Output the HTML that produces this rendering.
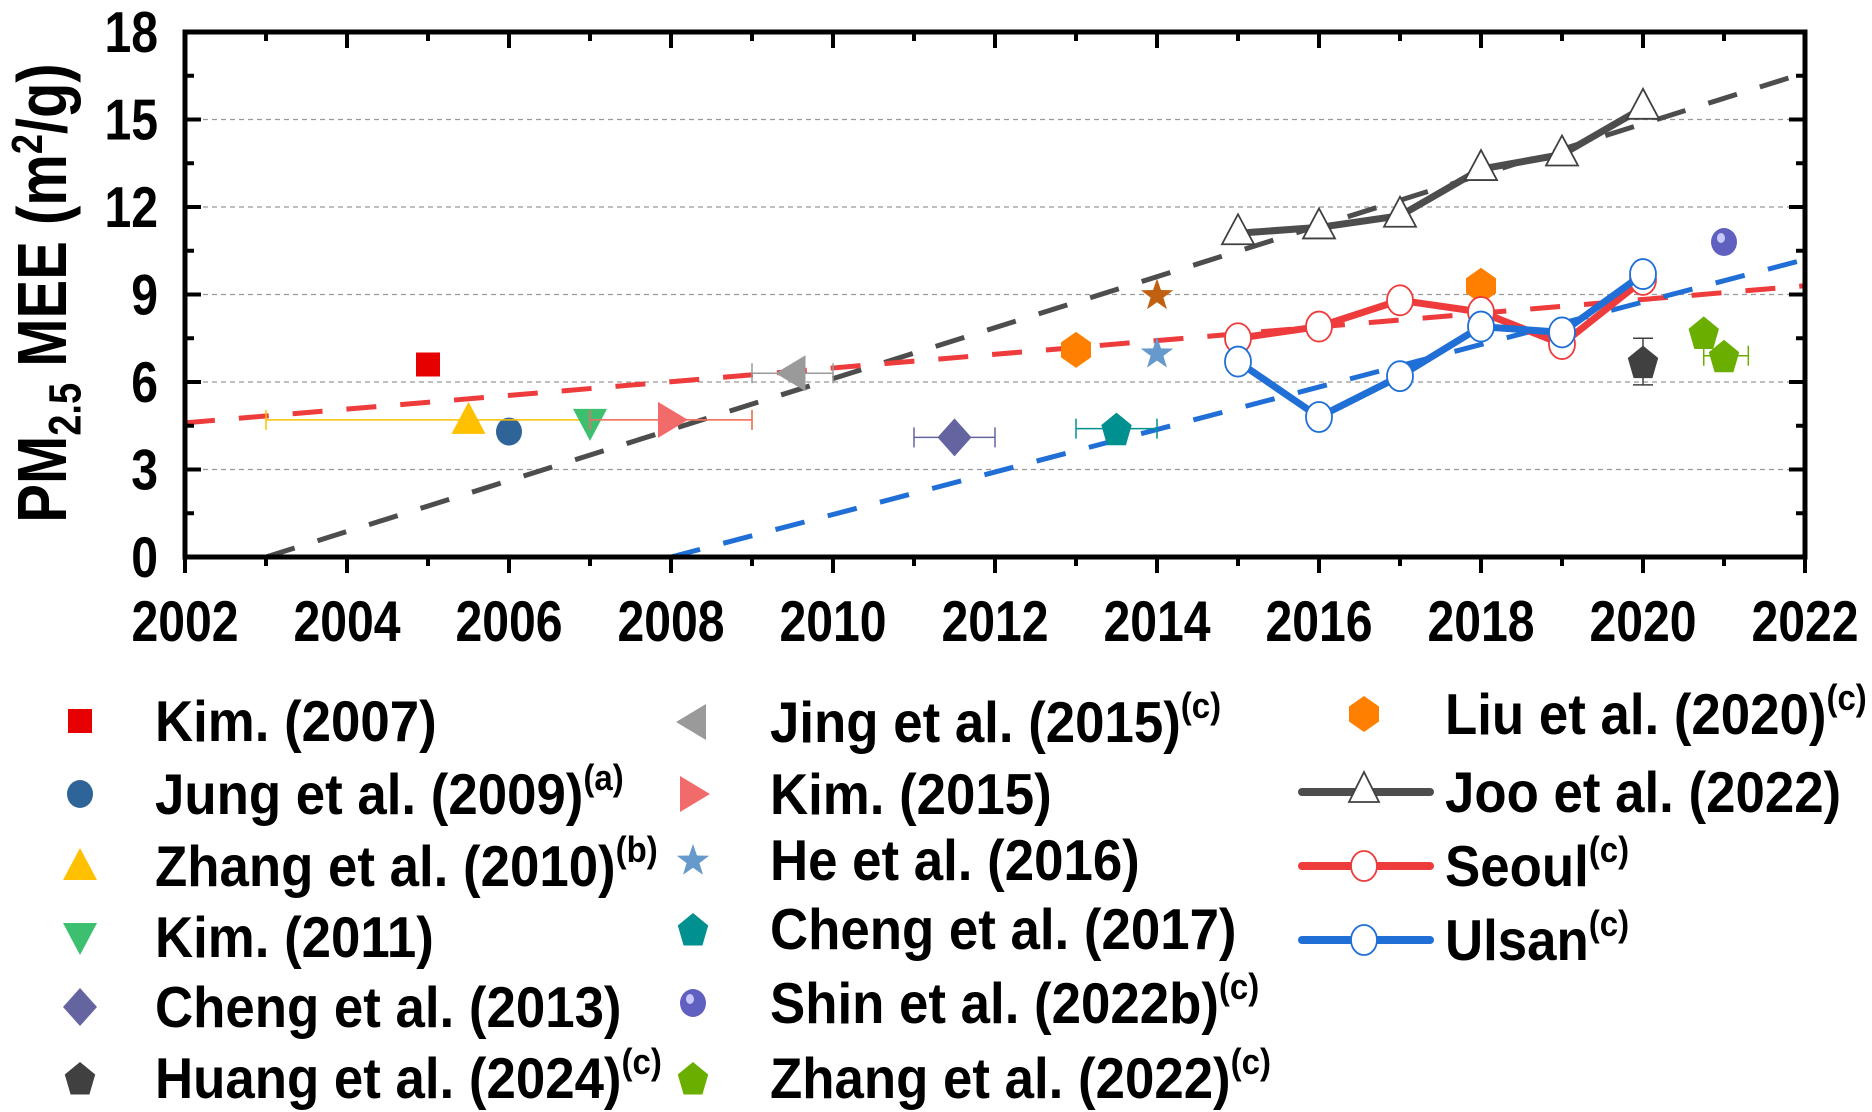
<!DOCTYPE html>
<html><head><meta charset="utf-8"><style>
body{margin:0;background:#fff}
svg{display:block;font-family:"Liberation Sans",Arial,sans-serif;font-weight:bold}
</style></head><body>
<svg id="c" width="1872" height="1112" viewBox="0 0 1872 1112">
<g id="grid"></g>
<g id="trends"></g>
<g id="series"></g>
<g id="axes"></g>
<g transform="translate(66,293) rotate(-90) scale(1,1.2)">
<text x="0" y="0" text-anchor="middle" font-size="58">PM<tspan font-size="38" dy="12">2.5</tspan><tspan dy="-12"> MEE (m</tspan><tspan font-size="36" dy="-20">2</tspan><tspan dy="20">/g)</tspan></text>
</g>
<g id="legend"></g>
</svg>
<script>
const xTicks=[2002,2004,2006,2008,2010,2012,2014,2016,2018,2020,2022];
const yTicks=[0,3,6,9,12,15,18];
const years=[2015,2016,2017,2018,2019,2020];
const jooVals=[11.1,11.3,11.7,13.3,13.8,15.4];
const seoulVals=[7.5,7.9,8.8,8.4,7.3,9.5];
const ulsanVals=[6.7,4.8,6.2,7.9,7.7,9.7];
const pointX=[2005,2006,2005.5,2007,2008,2009.5,2011.5,2013,2018,2014,2014,2013.5,2021,2020.75,2021,2020];
const pointY=[6.6,4.3,4.7,4.6,4.7,6.3,4.1,7.1,9.3,7.0,9.0,4.4,10.8,7.7,6.9,6.7];
const pointShape=['square','circle','tri-up','tri-down','tri-right','tri-left','diamond','hex','hex','star','star','pent','sphere','pent','pent','pent'];
const pointColor=['#e60000','#2f6499','#ffc000','#3cbf6e','#f26b6b','#9a9a9a','#6464a0','#ff8000','#ff8000','#6699cc','#c06010','#009090','#6060c0','#6aaf00','#6aaf00','#404040'];
const errXlo=[null,null,2003,null,2007,2009,2011,null,null,null,null,2013,null,null,2020.75,null];
const errXhi=[null,null,2009,null,2009,2010,2012,null,null,null,null,2014,null,null,2021.3,null];
const errYlo=[null,null,null,null,null,null,null,null,null,null,null,null,null,null,null,5.9];
const errYhi=[null,null,null,null,null,null,null,null,null,null,null,null,null,null,null,7.5];
const trendX0=[2003,2002,2008];const trendY0=[0,4.6,0];
const trendX1=[2022,2022,2022];const trendY1=[16.6,9.3,10.2];
const trendColor=['#4d4d4d','#ee3b3b','#1f6fd6'];

const L=185,R=1805,T=32,B=557;
const X=v=>L+(v-2002)/20*(R-L);
const Y=v=>B-v/18*(B-T);
const NS='http://www.w3.org/2000/svg';
function mk(parent,tag,attrs){const e=document.createElementNS(NS,tag);for(const k in attrs)e.setAttribute(k,attrs[k]);parent.appendChild(e);return e;}
const grid=document.getElementById('grid'),axes=document.getElementById('axes'),trends=document.getElementById('trends'),series=document.getElementById('series'),legend=document.getElementById('legend');

yTicks.forEach(v=>{if(v>0&&v<18){const l=mk(grid,'line',{x1:L,x2:R,y1:Y(v),y2:Y(v),stroke:'#999','stroke-width':1.2,'stroke-dasharray':'5 4'});

}});

trendX0.forEach((x0,i)=>{const l=mk(trends,'line',{x1:X(x0),y1:Y(trendY0[i]),x2:X(trendX1[i]),y2:Y(trendY1[i]),stroke:trendColor[i],'stroke-width':5,'stroke-dasharray':'30 24'});

});

function shape(g,type,cx,cy,col,r){
  r=r||15;let p;
  const poly=pts=>mk(g,'polygon',{points:pts.map(a=>a.join(',')).join(' '),fill:col});
  if(type==='square')p=mk(g,'rect',{x:cx-12,y:cy-12,width:24,height:24,fill:col});
  else if(type==='circle')p=mk(g,'ellipse',{cx:cx,cy:cy,rx:13,ry:14,fill:col});
  else if(type==='sphere'){mk(g,'ellipse',{cx:cx,cy:cy,rx:13,ry:14,fill:col});p=mk(g,'ellipse',{cx:cx-3,cy:cy-4,rx:4,ry:5,fill:'#c8c8ff'});}
  else if(type==='tri-up')p=poly([[cx,cy-r-3],[cx+r+2,cy+r-1],[cx-r-2,cy+r-1]]);
  else if(type==='tri-down')p=poly([[cx,cy+r+3],[cx+r+2,cy-r+1],[cx-r-2,cy-r+1]]);
  else if(type==='tri-right')p=poly([[cx+r+2,cy],[cx-r+2,cy-r-3],[cx-r+2,cy+r+3]]);
  else if(type==='tri-left')p=poly([[cx-r-2,cy],[cx+r-2,cy-r-3],[cx+r-2,cy+r+3]]);
  else if(type==='diamond')p=poly([[cx,cy-r-4],[cx+r+2,cy],[cx,cy+r+4],[cx-r-2,cy]]);
  else if(type==='hex')p=poly([[cx,cy-r-3],[cx+r,cy-r/2],[cx+r,cy+r/2],[cx,cy+r+3],[cx-r,cy+r/2],[cx-r,cy-r/2]]);
  else if(type==='pent'){const a=[];for(let k=0;k<5;k++){const t=-Math.PI/2+k*2*Math.PI/5;a.push([cx+(r+1)*Math.cos(t),(cy+(r+3)*Math.sin(t)+2)]);}p=poly(a);}
  else if(type==='star'){const a=[];for(let k=0;k<10;k++){const t=-Math.PI/2+k*Math.PI/5,rr=k%2?r*0.45:r+2;a.push([cx+rr*Math.cos(t),cy+rr*Math.sin(t)+1]);}p=poly(a);}
  return p;
}

pointX.forEach((x,i)=>{
  const g=mk(series,'g',{});
  
  
  const cx=X(x),cy=Y(pointY[i]);
  if(errXlo[i]!=null){const a=X(errXlo[i]),b=X(errXhi[i]);
    mk(g,'line',{x1:a,x2:b,y1:cy,y2:cy,stroke:pointColor[i],'stroke-width':1.5});
    mk(g,'line',{x1:a,x2:a,y1:cy-10,y2:cy+10,stroke:pointColor[i],'stroke-width':1.5});
    mk(g,'line',{x1:b,x2:b,y1:cy-10,y2:cy+10,stroke:pointColor[i],'stroke-width':1.5});}
  if(errYlo[i]!=null){const a=Y(errYlo[i]),b=Y(errYhi[i]);
    mk(g,'line',{x1:cx,x2:cx,y1:a,y2:b,stroke:pointColor[i],'stroke-width':1.5});
    mk(g,'line',{x1:cx-10,x2:cx+10,y1:a,y2:a,stroke:pointColor[i],'stroke-width':1.5});
    mk(g,'line',{x1:cx-10,x2:cx+10,y1:b,y2:b,stroke:pointColor[i],'stroke-width':1.5});}
  shape(g,pointShape[i],cx,cy,pointColor[i]);
});

function lineSeries(vals,col,mark,name){
  const g=mk(series,'g',{});
  
  
  mk(g,'polyline',{points:years.map((y,i)=>X(y)+','+Y(vals[i])).join(' '),fill:'none',stroke:col,'stroke-width':7,'stroke-linejoin':'round'});
  years.forEach((y,i)=>{const cx=X(y),cy=Y(vals[i]);
    if(mark==='tri')mk(g,'polygon',{points:`${cx},${cy-19} ${cx+16},${cy+11} ${cx-16},${cy+11}`,fill:'#fff',stroke:'#404040','stroke-width':1.8});
    else mk(g,'ellipse',{cx:cx,cy:cy,rx:13,ry:15,fill:'#fff',stroke:col,'stroke-width':1.8});});
}
lineSeries(jooVals,'#4d4d4d','tri','joo-series');
lineSeries(seoulVals,'#ee3b3b','circ','seoul-series');
lineSeries(ulsanVals,'#1f6fd6','circ','ulsan-series');

const frame=mk(axes,'rect',{x:L,y:T,width:R-L,height:B-T,fill:'none',stroke:'#000','stroke-width':5});


for(let yr=2002;yr<=2022;yr++){const maj=yr%2===0,x=X(yr);
  mk(axes,'line',{x1:x,x2:x,y1:B,y2:B+(maj?16:9),stroke:'#000','stroke-width':4});
  mk(axes,'line',{x1:x,x2:x,y1:T,y2:T+(maj?16:9),stroke:'#000','stroke-width':4});}
for(let v=0;v<=18;v+=1.5){const maj=v%3===0,y=Y(v);
  mk(axes,'line',{x1:L,x2:L+(maj?16:9),y1:y,y2:y,stroke:'#000','stroke-width':4});
  mk(axes,'line',{x1:R,x2:R-(maj?16:9),y1:y,y2:y,stroke:'#000','stroke-width':4});}
xTicks.forEach(v=>{const g=mk(axes,'g',{transform:`translate(${X(v)},641) scale(1.07,1.28)`});
const t=mk(g,'text',{x:0,y:0,'text-anchor':'middle','font-size':45});t.textContent=v;

});
yTicks.forEach(v=>{const g=mk(axes,'g',{transform:`translate(158,${Y(v)+20}) scale(1.07,1.28)`});
const t=mk(g,'text',{x:0,y:0,'text-anchor':'end','font-size':45});t.textContent=v;

});

const legLabels=[['Kim. (2007)',''],['Jung et al. (2009)','(a)'],['Zhang et al. (2010)','(b)'],['Kim. (2011)',''],['Cheng et al. (2013)',''],['Huang et al. (2024)','(c)'],
['Jing et al. (2015)','(c)'],['Kim. (2015)',''],['He et al. (2016)',''],['Cheng et al. (2017)',''],['Shin et al. (2022b)','(c)'],['Zhang et al. (2022)','(c)'],
['Liu et al. (2020)','(c)'],['Joo et al. (2022)',''],['Seoul','(c)'],['Ulsan','(c)']];
const legShape=['square','circle','tri-up','tri-down','diamond','pent','tri-left','tri-right','star','pent','sphere','pent','hex','line-tri','line-circ','line-circ'];
const legColor=['#e60000','#2f6499','#ffc000','#3cbf6e','#6464a0','#404040','#9a9a9a','#f26b6b','#6699cc','#009090','#6060c0','#6aaf00','#ff8000','#4d4d4d','#ee3b3b','#1f6fd6'];
const legRowY=[721,794,866,937,1007,1078,722,794,860,929,1003,1078,714,792,866,940];
legLabels.forEach((lab,i)=>{
  const col=i<6?0:i<12?1:2;
  const mx=[80,693,1364][col],tx=[155,770,1445][col],cy=legRowY[i];
  const g=mk(legend,'g',{});
  
  
  if(legShape[i].startsWith('line')){
    mk(g,'line',{x1:1302,x2:1430,y1:cy,y2:cy,stroke:legColor[i],'stroke-width':8,'stroke-linecap':'round'});
    if(legShape[i]==='line-tri')mk(g,'polygon',{points:`${1364},${cy-20} ${1379},${cy+10} ${1349},${cy+10}`,fill:'#fff',stroke:'#404040','stroke-width':1.8});
    else mk(g,'ellipse',{cx:1364,cy:cy,rx:13,ry:15,fill:'#fff',stroke:legColor[i],'stroke-width':1.8});
  } else shape(g,legShape[i],mx,cy,legColor[i]);
  const tg=mk(g,'g',{transform:`translate(${tx},${cy+20}) scale(1.1,1.2)`});
  const t=mk(tg,'text',{x:0,y:0,'font-size':48});
  t.textContent=lab[0];
  if(lab[1]){const s=mk(t,'tspan',{'font-size':30,dy:-20});s.textContent=lab[1];}
});
</script>
</body></html>
